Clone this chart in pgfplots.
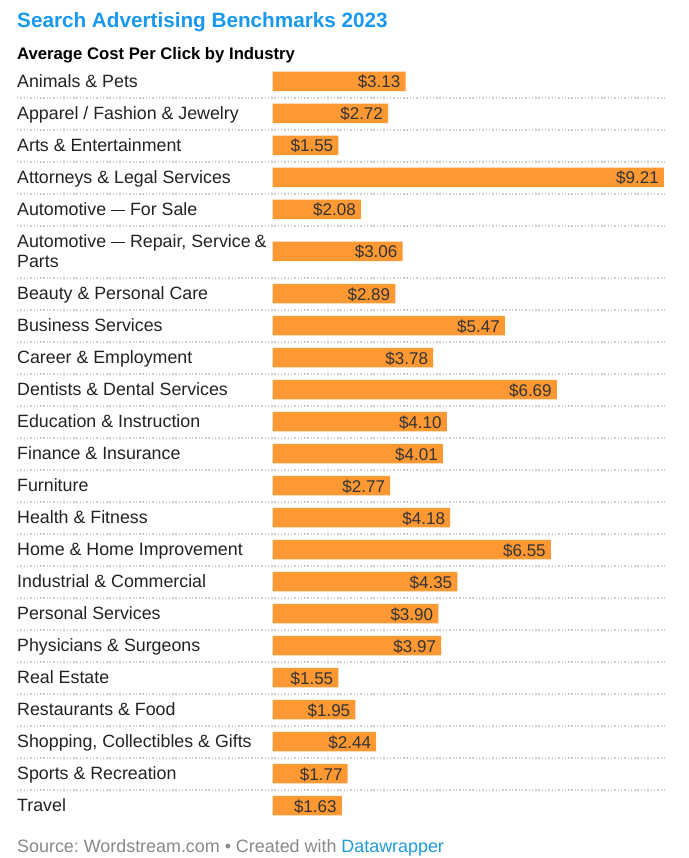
\documentclass[border=0pt]{standalone}
\usepackage{fontspec}
\setmainfont{Liberation Sans}
\usepackage{pgfplots}
\pgfplotsset{compat=1.18}
\definecolor{barorange}{RGB}{253,152,51}
\definecolor{titleblue}{RGB}{24,152,240}
\definecolor{dwblue}{RGB}{29,155,214}
\definecolor{sepgray}{RGB}{204,204,204}
\definecolor{labelblack}{RGB}{34,34,34}
\definecolor{valgray}{RGB}{51,51,51}
\definecolor{srcgray}{RGB}{136,136,136}
\newcommand{\emd}{\rule[0.245em]{0.78em}{0.065em}}
\frenchspacing
\begin{document}
\begin{tikzpicture}
\begin{axis}[
  scale only axis, width=688pt, height=858pt,
  xmin=-6.4118, xmax=9.7765, ymin=0, ymax=858, y dir=reverse,
  axis line style={draw=none}, tick style={draw=none}, major tick length=0pt,
  xtick=\empty,
  ytick={81.5,113.5,145.5,177.5,209.5,241.5,261.5,293.5,325.5,357.5,389.5,421.5,453.5,485.5,517.5,549.5,581.5,613.5,645.5,677.5,709.5,741.5,773.5,805.5},
  yticklabels={Animals \& Pets, Apparel / Fashion \& Jewelry, Arts \& Entertainment, Attorneys \& Legal Services, Automotive \emd{} For Sale, {Automotive \emd{} Repair, Service\hspace{-1pt} \&}, Parts, Beauty \& Personal Care, Business Services, Career \& Employment, Dentists \& Dental Services, Education \& Instruction, Finance \& Insurance, Furniture, Health \& Fitness, Home \& Home Improvement, Industrial \& Commercial, Personal Services, Physicians \& Surgeons, Real Estate, Restaurants \& Food, {Shopping, Collectibles \& Gifts}, Sports \& Recreation, Travel},
  yticklabel style={anchor=base west, inner sep=0pt, xshift=17pt, yshift=-6pt, font=\fontsize{17.8}{20}\selectfont, text=labelblack},
  clip=false,
]
\pgfplotsinvokeforeach{98,130,162,194,226,278,310,342,374,406,438,470,502,534,566,598,630,662,694,726,758,790}{
  \addplot[sepgray, line width=1.3pt, dash pattern=on 1.4pt off 1.9pt, forget plot] coordinates {(-6.0118,#1) (9.21,#1)};
}
\addplot[xbar, bar width=19.5, fill=barorange, draw=none, point meta=x,
  nodes near coords={\$\pgfmathprintnumber[fixed,fixed zerofill,precision=2,assume math mode=true]{\pgfplotspointmeta}},
  nodes near coords align={anchor=base east},
  every node near coord/.append style={inner sep=0pt, xshift=-5pt, yshift=-6.5pt, font=\fontsize{17}{20}\selectfont, text=valgray}]
coordinates {
(3.13,81.5) (2.72,113.5) (1.55,145.5) (9.21,177.5) (2.08,209.5) (3.06,251.5)
(2.89,293.5) (5.47,325.5) (3.78,357.5) (6.69,389.5) (4.10,421.5) (4.01,453.5)
(2.77,485.5) (4.18,517.5) (6.55,549.5) (4.35,581.5) (3.90,613.5) (3.97,645.5)
(1.55,677.5) (1.95,709.5) (2.44,741.5) (1.77,773.5) (1.63,805.5)
};
\node[anchor=base west, inner sep=0pt, font=\fontsize{20.7}{24}\selectfont\bfseries, text=titleblue] at (axis cs:-6.0118,28) {Search Advertising Benchmarks 2023};
\node[anchor=base west, inner sep=0pt, font=\fontsize{16.7}{20}\selectfont\bfseries, text=black] at (axis cs:-6.0118,60) {Average Cost Per Click by Industry};
\node[anchor=base west, inner sep=0pt, font=\fontsize{17.9}{20}\selectfont, text=srcgray] at (axis cs:-6.0118,852) {Source: Wordstream.com • Created with \textcolor{dwblue}{Datawrapper}};
\end{axis}
\end{tikzpicture}
\end{document}
